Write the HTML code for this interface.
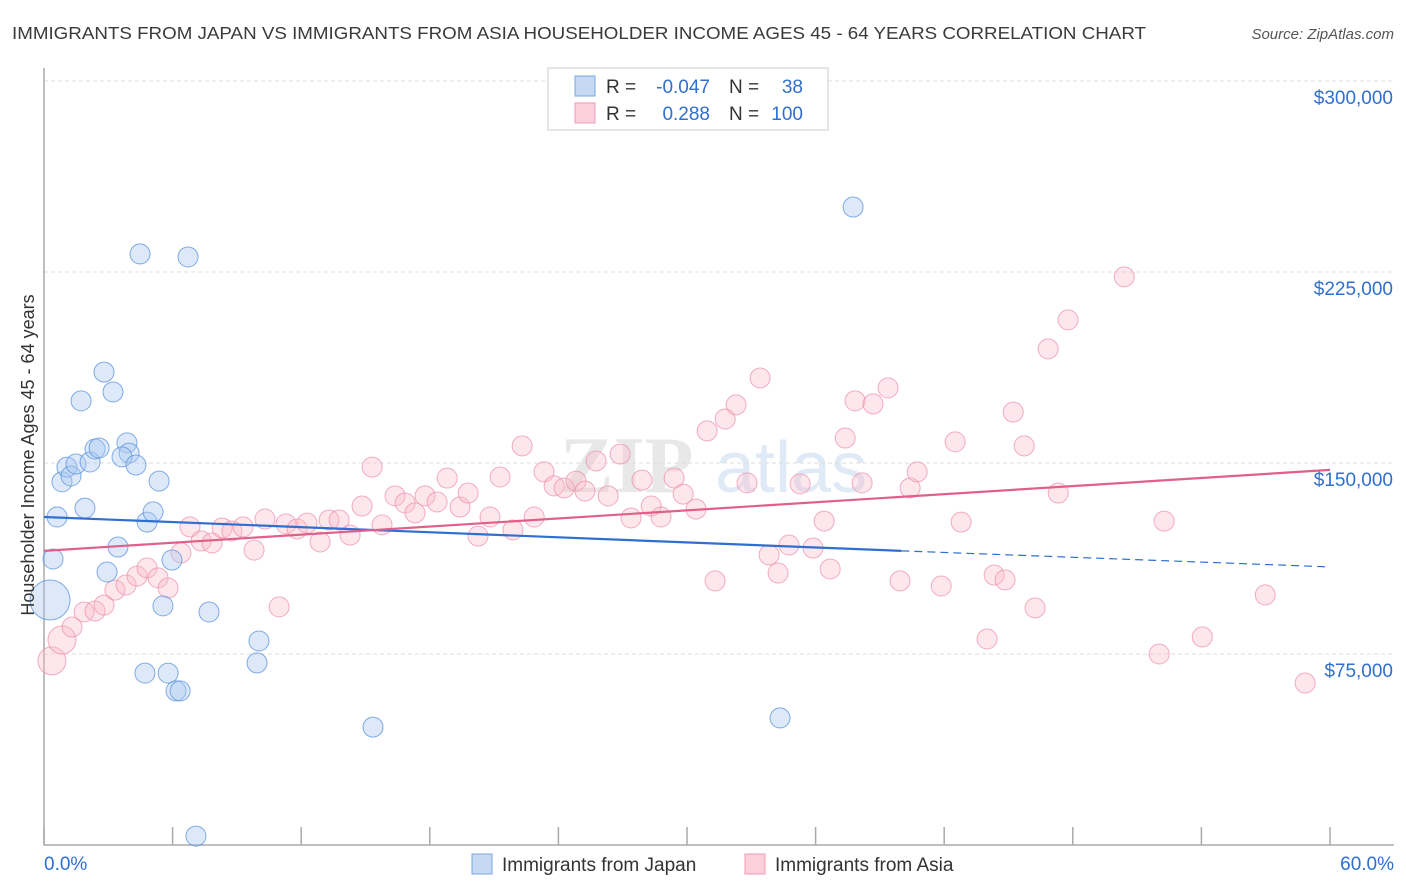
<!DOCTYPE html>
<html><head><meta charset="utf-8"><style>
body{margin:0;background:#fff;font-family:"Liberation Sans",sans-serif}
svg{display:block}
</style></head><body>
<svg id="chart" width="1406" height="892" viewBox="0 0 1406 892" xmlns="http://www.w3.org/2000/svg">
<text x="12" y="39" font-size="17.5" fill="#3a3a3a" textLength="1134" lengthAdjust="spacingAndGlyphs">IMMIGRANTS FROM JAPAN VS IMMIGRANTS FROM ASIA HOUSEHOLDER INCOME AGES 45 - 64 YEARS CORRELATION CHART</text>
<text x="1394" y="39" font-size="15" fill="#555" font-style="italic" text-anchor="end">Source: ZipAtlas.com</text>
<g><text x="560" y="492" font-size="80" fill="#e8e8e8" font-weight="bold" font-family="Liberation Serif,serif">ZIP</text><text x="715" y="492" font-size="72" fill="#e0eaf6">atlas</text></g>
<g id="grid"></g><g id="axes"></g><g id="pts"></g><g id="trend"></g>
<text transform="translate(34,455) rotate(-90)" font-size="18" fill="#333" text-anchor="middle">Householder Income Ages 45 - 64 years</text>
<g font-size="19">
<rect x="548" y="68" width="280" height="62" fill="#fff" stroke="#ccc"/>
<rect x="575" y="76" width="20" height="20" fill="#c5d9f5" stroke="#7aa7e0"/>
<rect x="575" y="103" width="20" height="20" fill="#fbd0dc" stroke="#f09ab2"/>
<text x="606" y="93" fill="#333">R =</text><text x="710" y="93" fill="#2f6fd0" text-anchor="end">-0.047</text>
<text x="729" y="93" fill="#333">N =</text><text x="803" y="93" fill="#2f6fd0" text-anchor="end">38</text>
<text x="606" y="120" fill="#333">R =</text><text x="710" y="120" fill="#2f6fd0" text-anchor="end">0.288</text>
<text x="729" y="120" fill="#333">N =</text><text x="803" y="120" fill="#2f6fd0" text-anchor="end">100</text>
</g>
<g><rect x="472" y="854" width="20" height="20" fill="#c5d9f5" stroke="#7aa7e0"/><text x="502" y="871" font-size="19" fill="#333">Immigrants from Japan</text></g>
<g><rect x="745" y="854" width="20" height="20" fill="#fbd0dc" stroke="#f09ab2"/><text x="775" y="871" font-size="19" fill="#333">Immigrants from Asia</text></g>
</svg>
<script>
const japanX=[0.28,0.42,0.61,0.84,1.07,1.26,1.49,1.73,1.91,2.15,2.38,2.57,2.80,2.94,3.22,3.45,3.87,3.97,3.64,4.29,4.48,4.71,4.81,5.09,5.37,5.55,5.79,5.97,6.16,6.35,6.72,7.09,7.70,10.03,9.94,15.35,34.34,37.75];
const japanY=[96.2,112.3,128.8,142.6,148.4,144.9,149.6,174.4,132.3,150.4,155.5,155.9,185.7,107.2,177.9,117.0,157.9,153.9,152.4,149.2,232.1,67.5,126.8,130.8,142.9,93.9,67.5,111.9,60.5,60.5,230.9,3.5,91.5,80.1,71.5,46.3,49.9,250.5];
const asiaX=[0.37,0.84,1.31,1.87,2.38,2.80,3.31,3.83,4.34,4.81,5.32,5.79,6.39,6.81,7.33,7.84,8.31,8.77,9.29,9.80,10.31,10.97,11.29,11.81,12.27,12.88,13.30,13.77,14.28,14.84,15.31,15.77,16.38,16.85,17.31,17.78,18.34,18.81,19.41,19.79,20.25,20.81,21.28,21.88,22.31,22.87,23.33,23.80,24.27,24.82,25.24,25.76,26.32,26.88,27.39,27.90,28.33,28.79,29.40,29.82,30.42,30.94,31.31,31.78,32.29,32.80,33.41,33.83,34.25,34.76,35.28,35.88,36.40,36.68,37.38,37.84,38.17,38.68,39.38,39.94,40.41,40.74,41.86,42.51,42.79,44.00,44.33,44.84,45.22,45.73,46.24,46.85,47.32,47.78,50.40,52.03,52.26,54.04,56.98,58.84];
const asiaY=[72.3,80.5,85.6,91.5,91.9,94.2,100.1,102.1,105.6,108.8,104.9,100.9,114.7,124.9,119.4,118.6,124.5,123.3,124.9,115.8,128.0,93.5,126.1,124.1,126.4,119.0,127.6,127.6,121.7,133.1,148.4,125.7,137.1,134.3,130.4,137.1,134.7,144.1,132.7,138.2,121.3,128.8,144.5,123.7,156.7,128.8,146.5,141.0,140.2,142.9,139.0,150.8,137.1,153.5,128.4,143.3,133.1,128.8,144.1,137.8,131.9,162.6,103.7,167.3,172.8,142.2,183.4,113.9,106.8,117.8,141.8,116.6,127.2,108.4,159.8,174.4,142.2,173.2,179.5,103.7,140.2,146.5,101.7,158.3,126.8,80.9,106.0,104.1,170.0,156.7,93.1,194.8,138.2,206.2,223.1,75.0,127.2,81.7,98.2,63.6];
const yTicks=[75,150,225,300];
const yTickLabels=["$75,000","$150,000","$225,000","$300,000"];
const xTicks=[0,6,12,18,24,30,36,42,48,54,60];
const japanTrend=[[0,128.8],[40,115.5],[60,109.2]];
const asiaTrend=[[0,115.5],[60,147.3]];
const NS="http://www.w3.org/2000/svg";
const sx=v=>44+v*(1286/60), sy=v=>845-v*(191/75);
function mk(t,a,p){const e=document.createElementNS(NS,t);for(const k in a)e.setAttribute(k,a[k]);p.appendChild(e);return e;}
const grid=document.getElementById('grid'),axes=document.getElementById('axes'),trend=document.getElementById('trend'),pts=document.getElementById('pts');
yTicks.forEach((v,i)=>{
 const l=mk('line',{x1:44,x2:1394,y1:sy(v),y2:sy(v),stroke:'#ddd','stroke-dasharray':'4,3'},grid);
 
 
 const t=mk('text',{x:1393,y:sy(v)+23,'font-size':19,fill:'#2f6fd0','text-anchor':'end'},axes);
 t.textContent=yTickLabels[i];
 
 
});
const ax=mk('path',{d:'M44,68V845H1394',fill:'none',stroke:'#aaa','stroke-width':1.5},axes);


xTicks.forEach(v=>{
 const l=mk('line',{x1:sx(v),x2:sx(v),y1:827,y2:845,stroke:'#aaa','stroke-width':1.5},axes);
 
 
});
const x0=mk('text',{x:44,y:870,'font-size':19,fill:'#2f6fd0'},axes);x0.textContent='0.0%';


const x1=mk('text',{x:1394,y:870,'font-size':19,fill:'#2f6fd0','text-anchor':'end'},axes);x1.textContent='60.0%';


function dot(x,y,r,f,s,n){const c=mk('circle',{cx:sx(x),cy:sy(y),r:r,fill:f,stroke:s,'stroke-width':1},pts);
 
 }
asiaX.forEach((x,i)=>dot(x,asiaY[i],i<2?14:10,'rgba(248,185,204,0.35)','rgba(236,140,170,0.7)','asia-point'));
japanX.forEach((x,i)=>dot(x,japanY[i],i==0?20:10,'rgba(170,200,240,0.4)','rgba(90,145,220,0.75)','japan-point'));
const jt1=mk('line',{x1:sx(japanTrend[0][0]),y1:sy(japanTrend[0][1]),x2:sx(japanTrend[1][0]),y2:sy(japanTrend[1][1]),stroke:'#2f6fd0','stroke-width':2.2},trend);


const jt2=mk('line',{x1:sx(japanTrend[1][0]),y1:sy(japanTrend[1][1]),x2:sx(japanTrend[2][0]),y2:sy(japanTrend[2][1]),stroke:'#2f6fd0','stroke-width':1.2,'stroke-dasharray':'8,5'},trend);


const at=mk('line',{x1:sx(asiaTrend[0][0]),y1:sy(asiaTrend[0][1]),x2:sx(asiaTrend[1][0]),y2:sy(asiaTrend[1][1]),stroke:'#e0608a','stroke-width':2.2},trend);


</script>
</body></html>
